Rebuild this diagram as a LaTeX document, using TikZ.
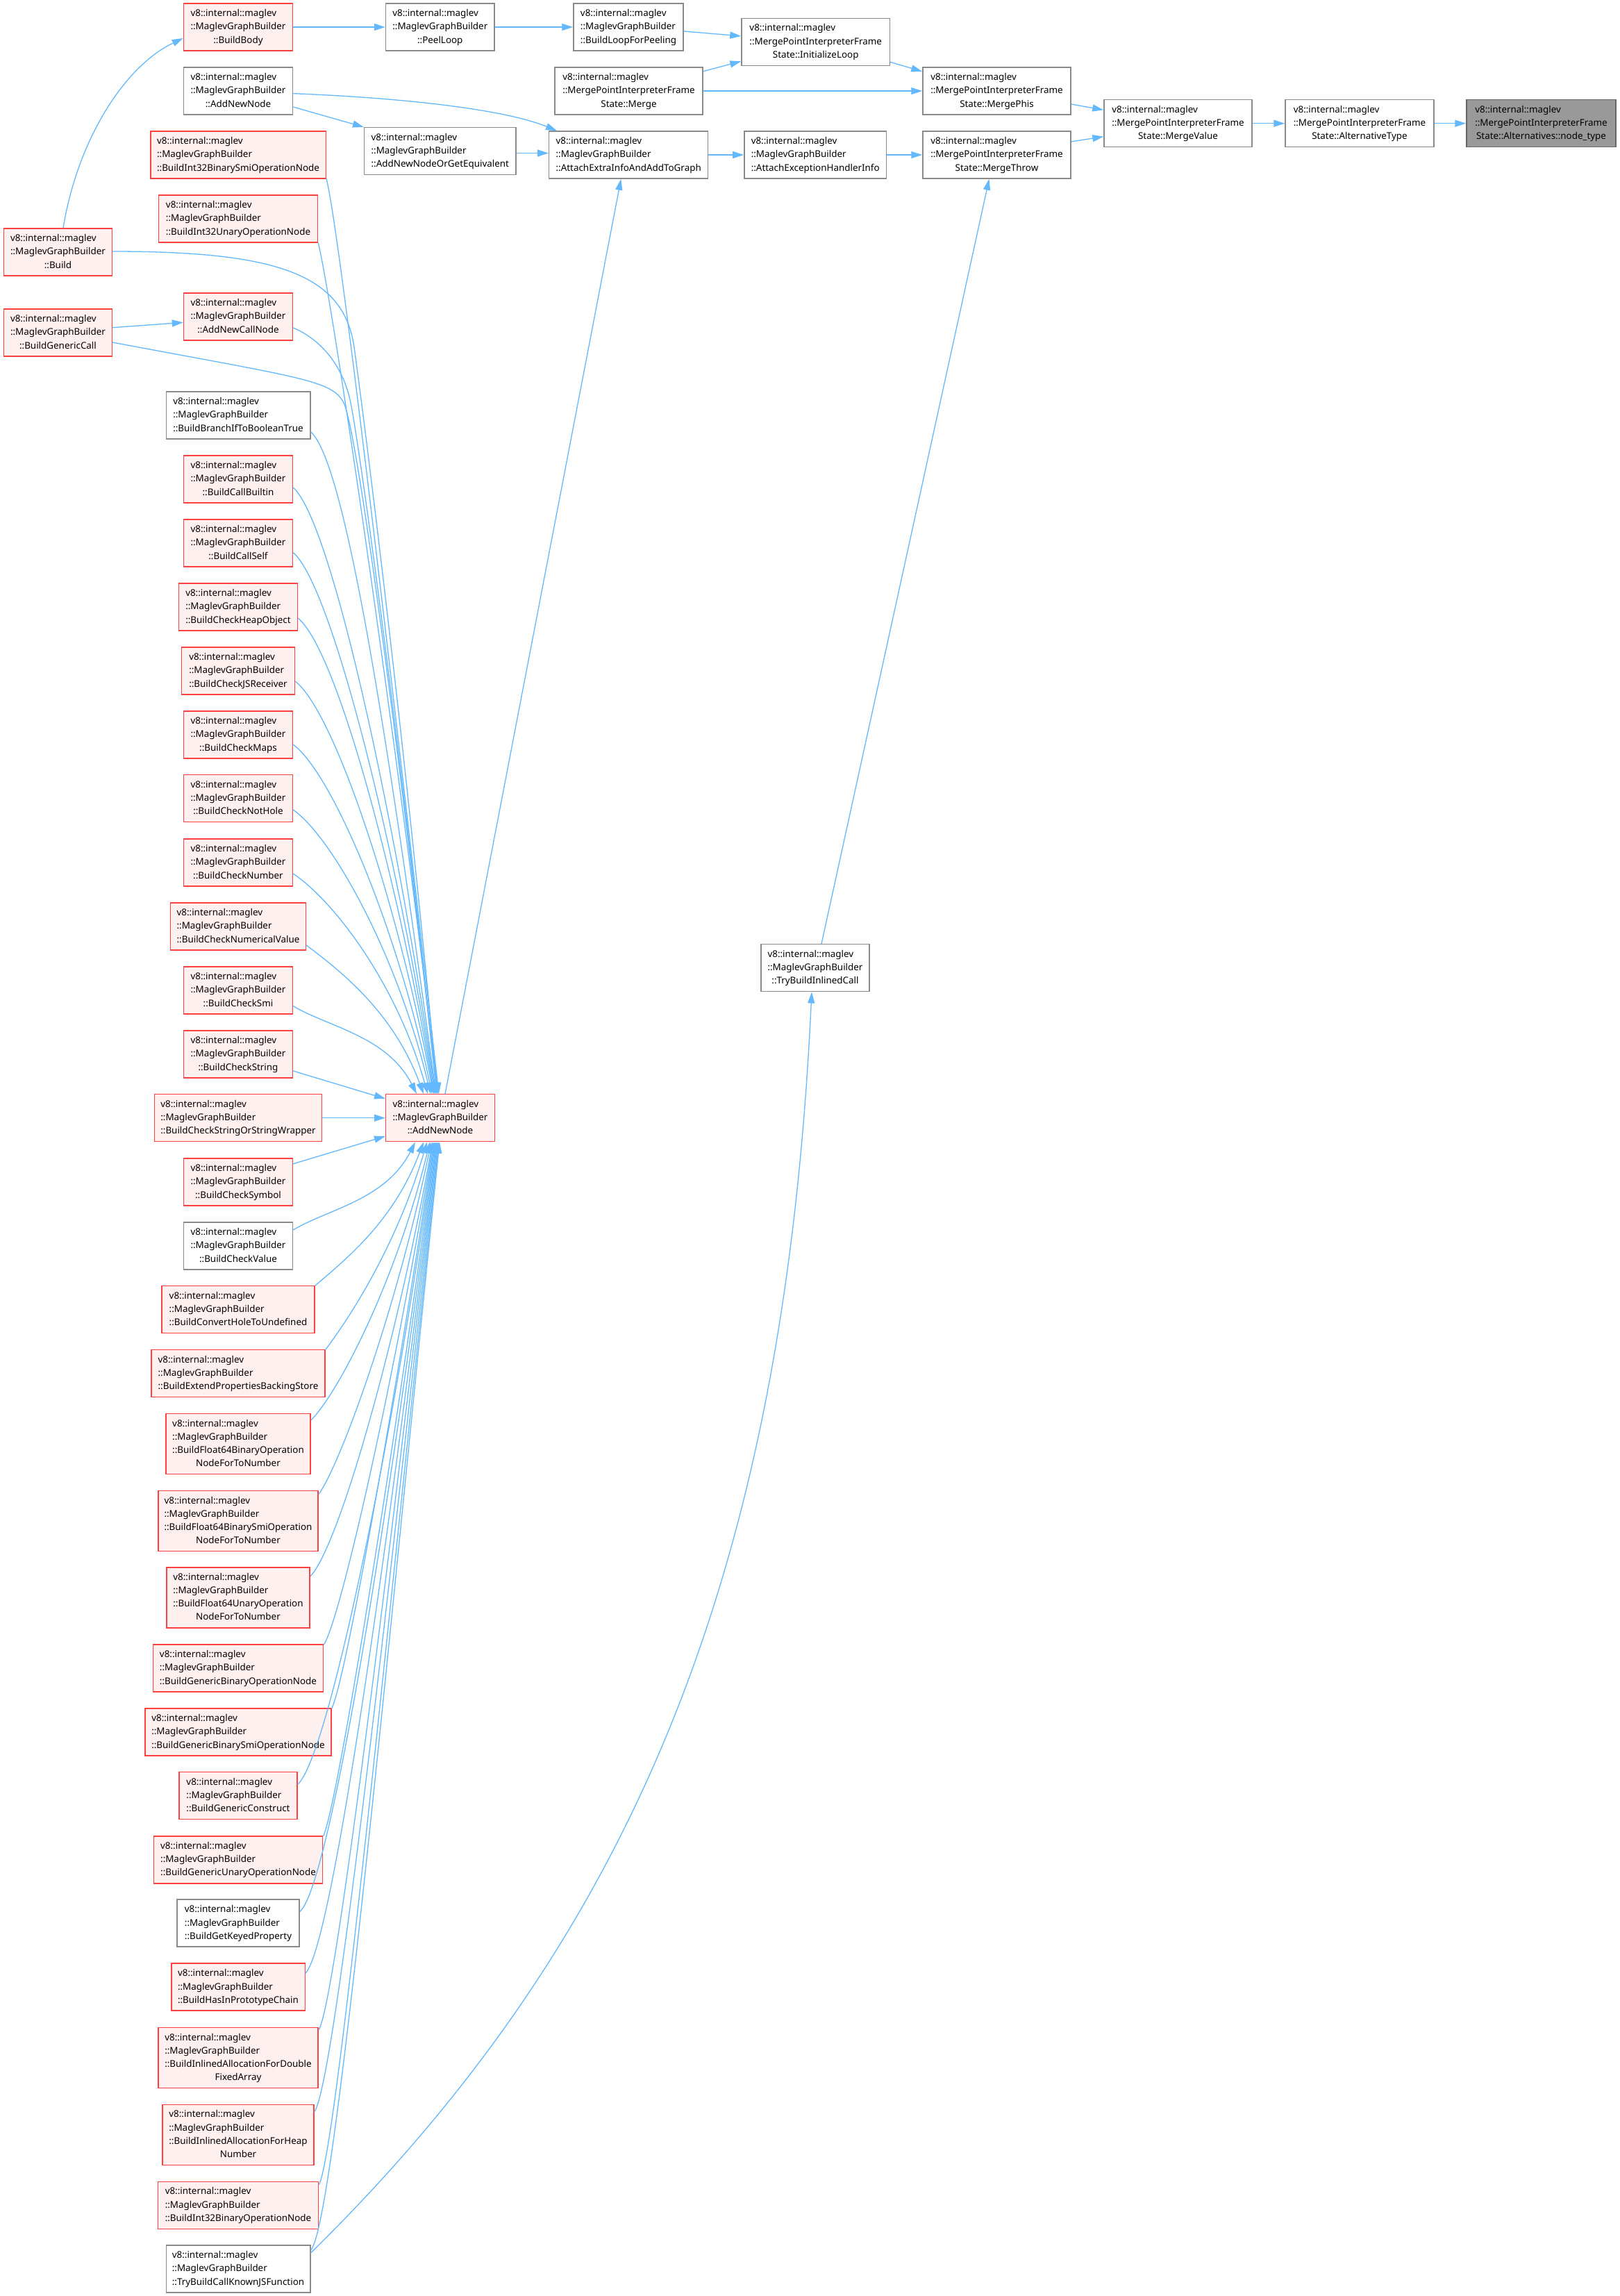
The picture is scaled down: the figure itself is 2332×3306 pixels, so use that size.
\documentclass[tikz,border=0pt]{standalone}
\usepackage{fontspec}
\setmainfont{Noto Sans}
\usetikzlibrary{arrows.meta}
\definecolor{edgeblue}{HTML}{63B8FF}
\definecolor{redfill}{HTML}{FFF0F0}
\definecolor{redline}{HTML}{FF4040}
\definecolor{greyline}{HTML}{8A8A8A}
\definecolor{rootfill}{HTML}{999999}
\definecolor{rootline}{HTML}{666666}
\newcommand\lblthree[3]{\begin{tabular}{@{}l@{}}#1\\#2\\\multicolumn{1}{@{}c@{}}{#3}\end{tabular}}
\newcommand\lblfour[4]{\begin{tabular}{@{}l@{}}#1\\#2\\#3\\\multicolumn{1}{@{}c@{}}{#4}\end{tabular}}
\newcommand\vemtxt{v8::internal::maglev}
\newcommand\mgbtxt{::MaglevGraphBuilder}
\newcommand\mpftxt{::MergePointInterpreterFrame}
\newcommand\mgbl[1]{\lblthree{\vemtxt}{\mgbtxt}{#1}}
\newcommand\mgbf[2]{\lblfour{\vemtxt}{\mgbtxt}{#1}{#2}}
\newcommand\mpfl[1]{\lblthree{\vemtxt}{\mpftxt}{#1}}
% edge into the top of the hub from a node above it
\newcommand\upE[5]{%
  \pgfmathsetmacro\myDd{1575.7-#2}%
  \pgfmathsetmacro\myax{-(40+0.02*\myDd)}%
  \pgfmathsetmacro\myay{-(30+0.42*\myDd)}%
  \draw[e] (#1.east |- 0,#2) .. controls +(#4,#5) and +(\myax,\myay) .. (hub.north -| #3,0);}
% edge into the bottom of the hub from a node below it
\newcommand\dnE[5]{%
  \pgfmathsetmacro\myDd{#2-1643.7}%
  \pgfmathsetmacro\myax{-(40+0.02*\myDd)}%
  \pgfmathsetmacro\myay{30+0.42*\myDd}%
  \draw[e] (#1.east |- 0,#2) .. controls +(#4,#5) and +(\myax,\myay) .. (hub.south -| #3,0);}
\tikzset{
  box/.style={rectangle, inner xsep=3pt, inner ysep=0pt, minimum height=68pt,
    font=\fontsize{13.4}{19.2}\selectfont, line width=1.5pt, text=black},
  rbox/.style={box, fill=redfill, draw=redline},
  wbox/.style={box, fill=white, draw=greyline},
  gbox/.style={box, fill=rootfill, draw=rootline},
  tall/.style={minimum height=87pt},
  e/.style={draw=edgeblue, line width=1.3pt, -{Triangle[length=16pt,width=10pt]}},
}
\begin{document}
\begin{tikzpicture}[x=1pt,y=-1pt]
\useasboundingbox[fill=white] (0,0) rectangle (2332,3306);
% ---- top area
\node[rbox,minimum width=157pt] (buildbody) at (343,39) {\mgbl{::BuildBody}};
\node[wbox,minimum width=156.4pt] (peelloop) at (633.8,39) {\mgbl{::PeelLoop}};
\node[wbox,minimum width=158pt] (buildloop) at (905,39) {\mgbl{::BuildLoopForPeeling}};
\node[wbox,minimum width=213.4pt] (initloop) at (1174.7,60.3) {\mpfl{State::InitializeLoop}};
\node[wbox,minimum width=213pt] (merge) at (905.5,131) {\mpfl{State::Merge}};
\node[wbox,minimum width=213pt] (mergephis) at (1435.5,131) {\mpfl{State::MergePhis}};
\node[wbox,minimum width=213pt] (mergevalue) at (1696.5,177.7) {\mpfl{State::MergeValue}};
\node[wbox,minimum width=214pt] (alttype) at (1958,177.7) {\mpfl{State::AlternativeType}};
\node[gbox,minimum width=215pt] (nodetype) at (2219.5,177.7) {\mpfl{State::Alternatives::node\_type}};
\node[wbox,minimum width=157pt] (addnode) at (343,131) {\mgbl{::AddNewNode}};
\node[wbox,minimum width=218.3pt] (addequiv) at (633.8,217.7) {\mgbl{::AddNewNodeOrGetEquivalent}};
\node[wbox,minimum width=229pt] (attach) at (905.2,223) {\mgbl{::AttachExtraInfoAndAddToGraph}};
\node[wbox,minimum width=204.5pt] (attachexc) at (1174.2,223) {\mgbl{::AttachExceptionHandlerInfo}};
\node[wbox,minimum width=213pt] (mergethrow) at (1435.5,223) {\mpfl{State::MergeThrow}};
\node[wbox,minimum width=156pt] (tryinlined) at (1174,1393.7) {\mgbl{::TryBuildInlinedCall}};
\node[rbox,minimum width=156.6pt] (hub) at (634,1609.7) {\mgbl{::AddNewNode}};
% ---- left columns
\node[rbox,minimum width=252.5pt] (int32binsmi) at (343,223) {\mgbl{::BuildInt32BinarySmiOperationNode}};
\node[rbox,minimum width=228.7pt] (int32unary) at (343,315) {\mgbl{::BuildInt32UnaryOperationNode}};
\node[rbox,minimum width=155.7pt] (build) at (83.5,363) {\mgbl{::Build}};
\node[rbox,minimum width=157pt] (addcall) at (343,456) {\mgbl{::AddNewCallNode}};
\node[rbox,minimum width=155.7pt] (genericcall) at (83.5,479) {\mgbl{::BuildGenericCall}};
\node[wbox,minimum width=207.5pt] (branchif) at (343,598) {\mgbl{::BuildBranchIfToBooleanTrue}};
\node[rbox,minimum width=156.7pt] (callbuiltin) at (343,690) {\mgbl{::BuildCallBuiltin}};
\node[rbox,minimum width=156.7pt] (callself) at (343,782) {\mgbl{::BuildCallSelf}};
\node[rbox,minimum width=170.6pt] (checkheap) at (343,874) {\mgbl{::BuildCheckHeapObject}};
\node[rbox,minimum width=162.8pt] (checkjs) at (343,966) {\mgbl{::BuildCheckJSReceiver}};
\node[rbox,minimum width=156.7pt] (checkmaps) at (343,1058) {\mgbl{::BuildCheckMaps}};
\node[rbox,minimum width=156.7pt] (checknothole) at (343,1149.5) {\mgbl{::BuildCheckNotHole}};
\node[rbox,minimum width=156.7pt] (checknumber) at (343,1242) {\mgbl{::BuildCheckNumber}};
\node[rbox,minimum width=194.8pt] (checknumval) at (343,1334) {\mgbl{::BuildCheckNumericalValue}};
\node[rbox,minimum width=156.7pt] (checksmi) at (343,1426) {\mgbl{::BuildCheckSmi}};
\node[rbox,minimum width=156.7pt] (checkstring) at (343,1518) {\mgbl{::BuildCheckString}};
\node[rbox,minimum width=241.4pt] (checkstrwrap) at (343,1609.7) {\mgbl{::BuildCheckStringOrStringWrapper}};
\node[rbox,minimum width=156.7pt] (checksymbol) at (343,1702) {\mgbl{::BuildCheckSymbol}};
\node[wbox,minimum width=156.7pt] (checkvalue) at (343,1794) {\mgbl{::BuildCheckValue}};
\node[rbox,minimum width=219.6pt] (converthole) at (343,1885.5) {\mgbl{::BuildConvertHoleToUndefined}};
\node[rbox,minimum width=249.7pt] (extendprops) at (343,1977.6) {\mgbl{::BuildExtendPropertiesBackingStore}};
\node[rbox,tall,minimum width=208pt] (f64bin) at (343,2079) {\mgbf{::BuildFloat64BinaryOperation}{NodeForToNumber}};
\node[rbox,tall,minimum width=230.2pt] (f64binsmi) at (343,2190) {\mgbf{::BuildFloat64BinarySmiOperation}{NodeForToNumber}};
\node[rbox,tall,minimum width=206pt] (f64unary) at (343,2300.3) {\mgbf{::BuildFloat64UnaryOperation}{NodeForToNumber}};
\node[rbox,minimum width=245.2pt] (genbin) at (343,2402) {\mgbl{::BuildGenericBinaryOperationNode}};
\node[rbox,minimum width=267.6pt] (genbinsmi) at (343,2494) {\mgbl{::BuildGenericBinarySmiOperationNode}};
\node[rbox,minimum width=169.6pt] (genconstruct) at (343,2585.7) {\mgbl{::BuildGenericConstruct}};
\node[rbox,minimum width=243.4pt] (genunary) at (343,2677.8) {\mgbl{::BuildGenericUnaryOperationNode}};
\node[wbox,minimum width=176.4pt] (getkeyed) at (343,2769.2) {\mgbl{::BuildGetKeyedProperty}};
\node[rbox,minimum width=192.5pt] (hasinproto) at (343,2861.2) {\mgbl{::BuildHasInPrototypeChain}};
\node[rbox,tall,minimum width=230.3pt] (inldouble) at (343,2963) {\mgbf{::BuildInlinedAllocationForDouble}{FixedArray}};
\node[rbox,tall,minimum width=217.7pt] (inlheap) at (343,3073.8) {\mgbf{::BuildInlinedAllocationForHeap}{Number}};
\node[rbox,minimum width=230.8pt] (int32bin) at (343,3175.3) {\mgbl{::BuildInt32BinaryOperationNode}};
\node[wbox,minimum width=207.5pt] (trycallknown) at (343,3267) {\mgbl{::TryBuildCallKnownJSFunction}};
% ---- top edges
\draw[e] (buildbody.east) -- (peelloop.west);
\draw[e] (peelloop.east) -- (buildloop.west);
\draw[e] (buildloop.east |- 0,45) -- (initloop.west |- 0,52);
\draw[e] (merge.east |- 0,102.7) -- (initloop.west |- 0,88.3);
\draw[e] (merge.east) -- (mergephis.west);
\draw[e] (initloop.east |- 0,89.3) -- (mergephis.west |- 0,103);
\draw[e] (mergephis.east |- 0,150) -- (mergevalue.west |- 0,158.3);
\draw[e] (mergethrow.east |- 0,204) -- (mergevalue.west |- 0,196.7);
\draw[e] (mergevalue.east) -- (alttype.west);
\draw[e] (alttype.east) -- (nodetype.west);
\draw[e] (attachexc.east) -- (mergethrow.west);
\draw[e] (attach.east) -- (attachexc.west);
\draw[e] (addequiv.east |- 0,220.5) -- (attach.west |- 0,220.5);
\draw[e] (addnode.east |- 0,154) -- (addequiv.north west);
\draw[e] (addnode.east |- 0,134.7) .. controls (560,140) and (720,155) .. (attach.north -| 802,0);
\draw[e] (hub.north -| 641,0) -- (attach.south -| 894.3,0);
\draw[e] (tryinlined.north -| 1183,0) -- (mergethrow.south -| 1424.5,0);
\draw[e] (build.north -| 91,0) .. controls (112,200) and (180,95) .. (buildbody.west |- 0,55);
\draw[e] (genericcall.east |- 0,471.7) -- (addcall.west |- 0,464.3);
\draw[e] (trycallknown.east |- 0,3244) .. controls (920,2780) and (1130,2250) .. (tryinlined.south -| 1169,0);
% ---- edges into the hub from above
\upE{int32binsmi}{257}{632}{20}{80}
\upE{int32unary}{349}{631}{20}{80}
\draw[e] (build.east |- 0,362) .. controls (400,362) and (495,395) .. (510,500)
  .. controls (520,570) and (582,1050) .. (hub.north -| 630,0);
\draw[e] (addcall.east |- 0,472) .. controls (465,490) and (495,530) .. (505,580)
  .. controls (520,655) and (580,1100) .. (hub.north -| 629,0);
\draw[e] (genericcall.east |- 0,493) .. controls (440,545) and (478,548) .. (495,580)
  .. controls (515,620) and (578,1100) .. (hub.north -| 629,0);
\upE{branchif}{621.7}{628}{55}{49}
\upE{callbuiltin}{702}{627}{55}{47}
\upE{callself}{795.6}{626}{55}{46}
\upE{checkheap}{890}{625}{55}{44}
\upE{checkjs}{981}{624}{55}{42}
\upE{checkmaps}{1072}{622}{55}{40}
\upE{checknothole}{1166}{620}{55}{38}
\upE{checknumber}{1258}{616}{55}{36}
\upE{checknumval}{1361}{610}{45}{34}
\upE{checksmi}{1448.5}{600}{50}{30}
\draw[e] (checkstring.east |- 0,1542) -- (hub.west |- 0,1582);
\draw[e] (checkstrwrap.east) -- (hub.west);
\draw[e] (checksymbol.east |- 0,1675.8) -- (hub.west |- 0,1636);
% ---- edges into the hub from below
\dnE{checkvalue}{1771}{598}{50}{-30}
\dnE{converthole}{1851.5}{610}{40}{-35}
\dnE{extendprops}{1943.6}{615}{30}{-40}
\dnE{f64bin}{2045}{619}{40}{-40}
\dnE{f64binsmi}{2151.5}{621}{30}{-40}
\dnE{f64unary}{2269.7}{623}{40}{-40}
\dnE{genbin}{2368.3}{624}{25}{-40}
\dnE{genbinsmi}{2460.4}{625}{20}{-40}
\dnE{genconstruct}{2569.5}{626}{45}{-40}
\dnE{genunary}{2644}{627}{20}{-40}
\dnE{getkeyed}{2752.4}{628}{45}{-40}
\dnE{hasinproto}{2841}{629}{40}{-40}
\dnE{inldouble}{2923}{630}{25}{-40}
\dnE{inlheap}{3041}{631}{30}{-40}
\dnE{int32bin}{3145.7}{632}{25}{-40}
\dnE{trycallknown}{3240}{633}{35}{-35}
\end{tikzpicture}
\end{document}
